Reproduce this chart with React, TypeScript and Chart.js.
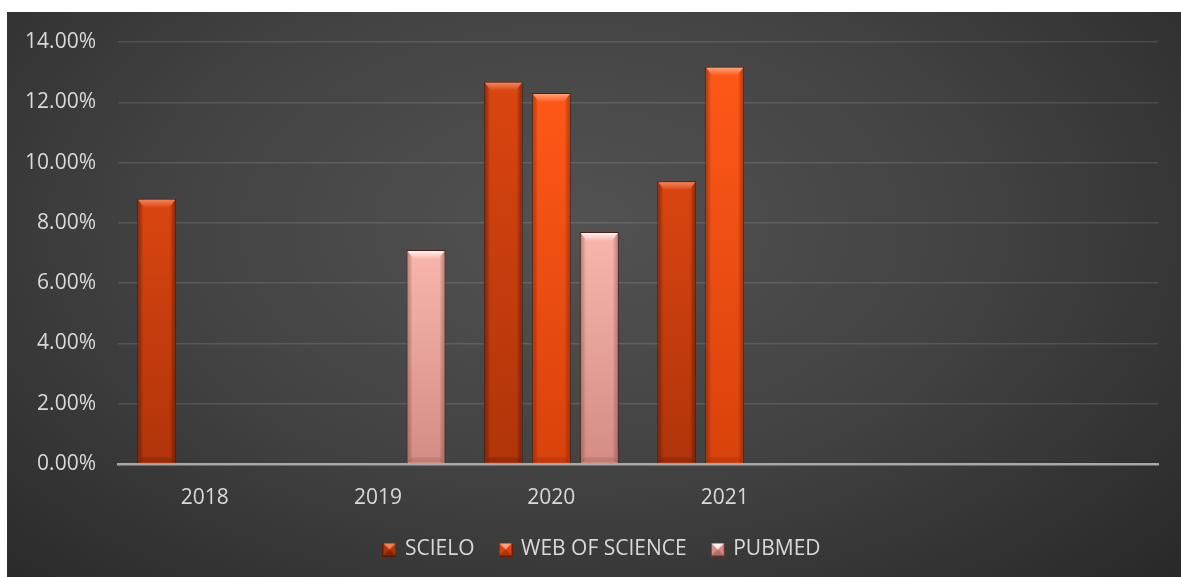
import React, { useEffect, useRef } from 'react';
import { Chart, registerables } from 'chart.js';

Chart.register(...registerables);

const categories = ['2018', '2019', '2020', '2021', '', ''];
const seriesNames = ['SCIELO', 'WEB OF SCIENCE', 'PUBMED'];
const scielo = [8.8, null, 12.68, 9.38, null, null];
const webOfScience = [null, null, 12.31, 13.18, null, null];
const pubmed = [null, 7.1, 7.7, null, null, null];
const yTicks = [0, 2, 4, 6, 8, 10, 12, 14];

const palettes = [
  { top: '#da4510', bottom: '#b0340a', light: '#f3845a', dark: 'rgba(70,18,4,0.45)' },
  { top: '#ff5818', bottom: '#d9420c', light: '#ffa27a', dark: 'rgba(110,28,4,0.4)' },
  { top: '#f9b6ac', bottom: '#d48c84', light: '#fff3ef', dark: 'rgba(110,55,50,0.35)' },
];

const FONT = "'Open Sans', sans-serif";
const TEXT = '#d9d9d9';
const FS = 21;

function makeLegendBox(p: any) {
  const c = document.createElement('canvas');
  c.width = 14;
  c.height = 14;
  const g = c.getContext('2d')!;
  g.fillStyle = p.bottom;
  g.fillRect(0, 0, 14, 14);
  g.fillStyle = p.light;
  g.beginPath();
  g.moveTo(0, 0);
  g.lineTo(14, 0);
  g.lineTo(7, 7);
  g.closePath();
  g.fill();
  g.fillStyle = p.dark;
  g.beginPath();
  g.moveTo(0, 14);
  g.lineTo(14, 14);
  g.lineTo(7, 7);
  g.closePath();
  g.fill();
  g.strokeStyle = 'rgba(60,20,10,0.7)';
  g.lineWidth = 1;
  g.strokeRect(0.5, 0.5, 13, 13);
  return c;
}

const bevelPlugin = {
  id: 'bevel',
  afterDatasetsDraw(chart: any) {
    const ctx = chart.ctx;
    chart.data.datasets.forEach((ds: any, di: number) => {
      const meta = chart.getDatasetMeta(di);
      const pal = palettes[di];
      meta.data.forEach((el: any, i: number) => {
        if (ds.data[i] == null) return;
        const { x, y, base, width } = el.getProps(['x', 'y', 'base', 'width'], true);
        const l = x - width / 2 + 1;
        const r = x + width / 2 - 1;
        const t = y + 1;
        const b = base - 1;
        const bv = 8;
        const inset = 6;
        ctx.save();
        let g = ctx.createLinearGradient(l, 0, l + 5, 0);
        g.addColorStop(0, pal.dark);
        g.addColorStop(1, 'rgba(0,0,0,0)');
        ctx.fillStyle = g;
        ctx.fillRect(l, t, 5, b - t);
        g = ctx.createLinearGradient(r, 0, r - 5, 0);
        g.addColorStop(0, pal.dark);
        g.addColorStop(1, 'rgba(0,0,0,0)');
        ctx.fillStyle = g;
        ctx.fillRect(r - 5, t, 5, b - t);
        g = ctx.createLinearGradient(0, t, 0, t + bv);
        g.addColorStop(0, pal.light);
        g.addColorStop(1, pal.top);
        ctx.fillStyle = g;
        ctx.beginPath();
        ctx.moveTo(l, t);
        ctx.lineTo(r, t);
        ctx.lineTo(r - inset, t + bv);
        ctx.lineTo(l + inset, t + bv);
        ctx.closePath();
        ctx.fill();
        ctx.fillStyle = pal.dark;
        ctx.globalAlpha = 0.5;
        ctx.beginPath();
        ctx.moveTo(l, b);
        ctx.lineTo(r, b);
        ctx.lineTo(r - 4, b - 5);
        ctx.lineTo(l + 4, b - 5);
        ctx.closePath();
        ctx.fill();
        ctx.restore();
      });
    });
  },
};

const legendShift = {
  id: 'legendShift',
  afterLayout(chart: any) {
    if (chart.legend) {
      chart.legend.left += 20;
      chart.legend.right += 20;
    }
  },
};

function barFill(di: number) {
  return (c: any) => {
    const chart = c.chart;
    const area = chart.chartArea;
    const p = palettes[di];
    const ys = chart.scales && chart.scales.y;
    if (!area || !ys || c.raw == null) return p.top;
    const top = ys.getPixelForValue(c.raw);
    const base = ys.getPixelForValue(0);
    if (!isFinite(top) || !isFinite(base) || base - top < 1) return p.top;
    const g = chart.ctx.createLinearGradient(0, top, 0, base);
    g.addColorStop(0, p.top);
    g.addColorStop(1, p.bottom);
    return g;
  };
}

export default function App() {
  const ref = useRef<HTMLCanvasElement>(null);

  useEffect(() => {
    const boxes = palettes.map(makeLegendBox);
    const series = [scielo, webOfScience, pubmed];
    const chart = new Chart(ref.current!, {
      type: 'bar',
      data: {
        labels: categories,
        datasets: series.map((data, di) => ({
          label: seriesNames[di],
          data,
          backgroundColor: barFill(di),
          borderColor: 'rgba(70,25,15,0.85)',
          borderWidth: 1,
          categoryPercentage: 0.831,
          barPercentage: 0.81,
        })),
      },
      options: {
        animation: false,
        responsive: false,
        layout: { padding: { top: 30, right: 23, left: 0, bottom: 7 } },
        plugins: {
          tooltip: { enabled: false },
          legend: {
            position: 'bottom',
            labels: {
              color: TEXT,
              font: { family: FONT, size: FS },
              boxWidth: 10,
              boxHeight: 14,
              padding: 26,
              usePointStyle: true,
              generateLabels: (ch: any) =>
                Chart.defaults.plugins.legend.labels.generateLabels(ch).map((it: any, k: number) => ({
                  ...it,
                  pointStyle: boxes[k],
                })),
            },
          },
        },
        scales: {
          x: {
            grid: { display: false, drawTicks: false },
            border: { display: true, color: '#a8a8a8', width: 2.5 },
            ticks: { color: TEXT, font: { family: FONT, size: FS }, padding: 21 },
            afterFit: (s: any) => {
              s.height = 49;
            },
          },
          y: {
            min: 0,
            max: 14,
            afterBuildTicks: (s: any) => {
              s.ticks = yTicks.map((v) => ({ value: v }));
            },
            ticks: {
              color: TEXT,
              font: { family: FONT, size: FS },
              padding: 22,
              callback: (v: any) => Number(v).toFixed(2) + '%',
            },
            grid: {
              drawTicks: false,
              lineWidth: 1.5,
              color: (c: any) => (c.tick && c.tick.value === 0 ? 'rgba(0,0,0,0)' : 'rgba(255,255,255,0.12)'),
            },
            border: { display: false },
            afterFit: (s: any) => {
              s.width = 111;
              s.paddingTop = 0;
              s.paddingBottom = 0;
            },
          },
        },
      },
      plugins: [bevelPlugin, legendShift],
    } as any);
    return () => chart.destroy();
  }, []);

  return (
    <div
      style={{
        position: 'absolute',
        left: 7,
        top: 12,
        width: 1174,
        height: 565,
        background: 'radial-gradient(ellipse 75% 95% at 48% 38%, #525252 0%, #434343 45%, #262626 100%)',
      }}
    >
      <canvas ref={ref} width={1174} height={565} style={{ display: 'block' }} />
    </div>
  );
}
